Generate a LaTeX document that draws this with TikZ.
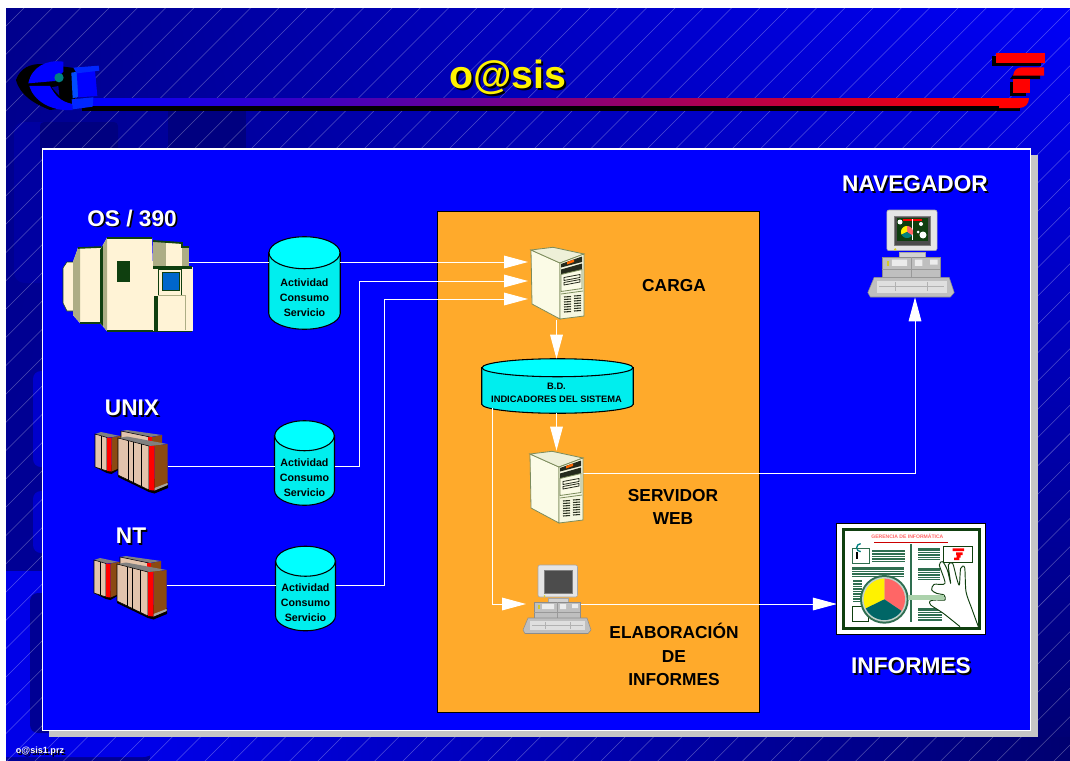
\documentclass[tikz,border=0pt]{standalone}
\usepackage{fontspec}
\setmainfont{Liberation Sans}
\usetikzlibrary{arrows.meta,shadings}
\definecolor{orangebox}{HTML}{FFAA2B}
\definecolor{crema}{HTML}{FFF3D6}
\definecolor{caqui}{HTML}{ADAD85}
\definecolor{verdeosc}{HTML}{0F3F0F}
\definecolor{beige}{HTML}{E3C4AC}
\definecolor{marron}{HTML}{8B4A12}
\definecolor{hueso}{HTML}{FBFBE6}
\definecolor{oliva}{HTML}{7C8C5C}
\definecolor{renglon}{HTML}{2E6E50}
\definecolor{fondoA}{HTML}{00008C}
\definecolor{fondoB}{HTML}{0000F8}
\definecolor{fondoC}{HTML}{000098}
\definecolor{fondoD}{HTML}{000070}
\definecolor{fondoE}{HTML}{0000E8}
\definecolor{tapa}{HTML}{00FFFF}
\definecolor{cuerpo}{HTML}{00EEEE}
\newcommand{\sombra}[2][white]{\leavevmode\rlap{\kern1.3pt\raisebox{-1.3pt}{\textcolor{black}{#2}}}\textcolor{#1}{#2}}
\newcommand{\renglones}[5]{\fill[renglon] (#1,#2) rectangle (#3,#4);
    \foreach \k [evaluate=\k as \yy using #2+7.5*\k] in {1,...,#5} \draw[white,line width=.35pt] (#1,\yy) -- (#3,\yy);}
\newcommand{\sector}[6]{\fill[#6] (#1,#2) -- plot[domain=#4:#5,samples=24] ({#1+#3*cos(\x)},{#2-#3*sin(\x)}) -- cycle;}
\newcommand{\actividad}{Actividad\\Consumo\\Servicio}
\newcommand{\tambor}[3]{
    \filldraw[tamborline,fill=cuerpo] ([yshift=-#3*.75pt]#1.north west) -- ([yshift=#3*.75pt]#1.south west)
        .. controls +(0pt,-#3*.41pt) and +(-#2*.41pt,0pt) .. (#1.south)
        .. controls +(#2*.41pt,0pt) and +(0pt,-#3*.41pt) .. ([yshift=#3*.75pt]#1.south east)
        -- ([yshift=-#3*.75pt]#1.north east) -- cycle;
    \filldraw[tamborline,fill=tapa] ([yshift=-#3*.75pt]#1.north) ellipse [x radius=#2*.75pt,y radius=#3*.75pt];
}
\tikzset{
    titulo/.style={font=\bfseries\fontsize{17}{20}\selectfont},
    rotulo/.style={font=\bfseries\fontsize{13}{17.5}\selectfont,align=center,inner sep=0pt},
    hueco/.style={inner sep=0pt},
    wire/.style={white,line width=.7pt},
    flecha/.style={wire,-{Triangle[length=18pt,width=9.5pt,fill=white]}},
    tamborline/.style={draw=black,line width=.8pt},
    etiqueta/.style={align=center,inner sep=0pt,font=\bfseries\fontsize{8}{11.2}\selectfont},
    pics/central/.style={code={
        \begin{scope}[shift={(-128,-284.5)}]
            \fill[crema,draw=verdeosc] (63,268) -- (67,262) -- (75,262) -- (75,311) -- (67,311) -- (63,303) -- cycle;
            \fill[crema] (73,262) -- (78,248) -- (101,247) -- (101,323) -- (80,323) -- (73,315) -- cycle;
            \fill[caqui] (73,262) -- (78,248) -- (80,248) -- (80,323) -- (73,315) -- cycle;
            \draw[verdeosc,line width=1.2pt] (78,248) -- (101,247) (80,323) -- (101,323);
            \fill[crema] (100,250) -- (107,238) -- (152,238) -- (155,331) -- (107,331) -- (100,323) -- cycle;
            \fill[verdeosc] (100,250) -- (103,245) -- (103,326) -- (100,323) -- cycle;
            \fill[caqui] (103,245) -- (107,238) -- (107,331) -- (103,326) -- cycle;
            \draw[verdeosc,line width=1.4pt] (107,238) -- (152,238) (107,331) -- (192,331);
            \fill[caqui] (153,241) rectangle (166,267);
            \fill[crema] (166,243) rectangle (182,267);
            \fill[caqui] (182,247) rectangle (189,267);
            \draw[verdeosc,line width=1.4pt] (153,241) -- (182,243) -- (182,247) -- (189,247);
            \fill[crema] (153,267) rectangle (192.7,331);
            \fill[verdeosc] (153,266) rectangle (192,268.5);
            \fill[verdeosc] (117,261) rectangle (130,282);
            \draw[verdeosc,fill=crema] (158,269) rectangle (181,295);
            \fill[verdeosc] (162,272) rectangle (180,291);
            \fill[blue!50!cyan!80!black] (163,273) rectangle (179,290);
            \fill[verdeosc] (154,296) rectangle (158,331);
            \draw[caqui] (158,295) -- (185,295) -- (185,330);
        \end{scope}
    }},
    pics/racks/.style={code={
        \begin{scope}[shift={(-131.5,-462)},draw=black]
            \fill[gray] (95,434) -- (101,432) -- (120,436) -- (107,437.5) -- cycle;
            \fill[black] (95,467) -- (107,473) -- (111.5,474) -- (120,469) -- (120,465) -- (95,464) -- cycle;
            \fill[beige,draw=black,line width=.4pt] (95,434) -- (107,437.5) -- (107,471) -- (95,467) -- cycle;
            \draw[line width=.4pt] (101,436) -- (101,469);
            \fill[red] (107,437.5) -- (111.5,437.5) -- (111.5,471.5) -- (107,471) -- cycle;
            \fill[marron] (111.5,437.5) -- (122,435.5) -- (122,467) -- (111.5,471.5) -- cycle;
            \fill[gray] (121,431) -- (127,430) -- (162,435) -- (150,437) -- cycle;
            \fill[beige,draw=black,line width=.4pt] (121,431) -- (150,437) -- (150,446) -- (121,440) -- cycle;
            \fill[red] (148,437) rectangle (152,445);
            \fill[marron] (152,437) -- (162,435) -- (162,445) -- (152,447) -- cycle;
            \fill[black] (118,477) -- (149,492) -- (154.5,493.5) -- (168,488) -- (168,482) -- (118,470) -- cycle;
            \fill[gray] (118,438) -- (127,436.5) -- (167.5,444) -- (149,446) -- cycle;
            \fill[beige,draw=black,line width=.4pt] (118,438) -- (149,446) -- (149,490) -- (118,475) -- cycle;
            \foreach \xx/\ya/\yb in {128/440.5/480,133/442/482.5,141/444/486} \draw[line width=.4pt] (\xx,\ya) -- (\xx,\yb);
            \fill[red] (149,446) -- (154.5,446) -- (154.5,490.5) -- (149,490) -- cycle;
            \fill[marron] (154.5,446) -- (167.5,444) -- (167.5,485) -- (154.5,490.5) -- cycle;
            \fill[gray!70] (154.5,488) -- (167.5,483) -- (167.5,485) -- (154.5,490.5) -- cycle;
        \end{scope}
    }},
    pics/torre/.style={code={
        \begin{scope}[shift={(-558,-283.5)},draw=oliva,line width=.6pt]
            \filldraw[fill=hueso] (531,250) -- (560,263) -- (560,319) -- (532,304) -- cycle;
            \filldraw[fill=hueso!90!oliva] (531,250) -- (553,247.3) -- (584,254) -- (560,263) -- cycle;
            \filldraw[fill=hueso!96!oliva] (560,263) -- (584,254) -- (584,316) -- (560,319) -- cycle;
            \fill[black!70!oliva] (561,264) -- (582,256.5) -- (582,262) -- (561,267.5) -- cycle;
            \fill[orange!80!red] (567,262) -- (574,259.5) -- (574,262) -- (567,264.5) -- cycle;
            \fill[black!70!oliva] (561,269.5) -- (582,263.5) -- (582,269.5) -- (561,274.5) -- cycle;
            \filldraw[fill=hueso] (561,274.5) -- (582,269.5) -- (582,288.5) -- (561,291.5) -- cycle;
            \filldraw[draw=black!70!oliva,fill=hueso] (564,277.5) -- (580,274.5) -- (580,277.5) -- (564,280.5) -- cycle;
            \filldraw[draw=black!70!oliva,fill=hueso] (564,282.5) -- (580,279.5) -- (580,282) -- (564,285) -- cycle;
            \draw (561,294) -- (583,291);
            \foreach \yy in {297,299.5,...,314} {
                \draw[black!65!oliva,line width=.8pt] (564,\yy) -- (571,\yy-.5);
                \draw[black!65!oliva,line width=.8pt] (574,\yy-1) -- (581,\yy-1.5);
            }
        \end{scope}
    }},
    pics/equipo/.style={code={
        \begin{scope}[shift={(-557,-602)}]
            \draw[gray!70,fill=gray!20,rounded corners=1.5pt] (538,565) rectangle (577.5,597);
            \draw[gray,fill=black!70] (544,570) rectangle (572,593);
            \fill[yellow!85!black] (544.5,596) circle (1);
            \draw[gray!70,fill=gray!35] (548,598) rectangle (568,602);
            \draw[black!45,fill=gray!50] (534,602) rectangle (580,618);
            \fill[white!85!gray] (542,604) rectangle (554,609) (560,604) rectangle (566,609) (572,604) rectangle (578,608);
            \draw[black!40] (534,612) -- (580,612) (557,602) -- (557,618);
            \fill[yellow!80!black] (538,605) rectangle (539.5,609);
            \filldraw[draw=black!45,fill=gray!50,line join=round] (528,618) -- (587,618) -- (591,630) -- (588,633.5) -- (525,633.5) -- (523,630) -- cycle;
            \fill[gray!25] (530,621) rectangle (585,630);
            \draw[gray!60,line width=.6pt] (532,625) -- (583,625) (545,622) -- (545,629) (570,622) -- (570,629);
        \end{scope}
    }}
}
\begin{document}
\begin{tikzpicture}[x=.75pt,y=-.75pt]
    \useasboundingbox (0,0) rectangle (1070,760);
    \fill[white] (0,0) rectangle (1070,760);
    \begin{scope}
        \clip (6,8) rectangle (1070,760);
        \shade[upper left=fondoA,upper right=fondoB,lower left=fondoC,lower right=fondoD] (6,8) rectangle (1070,760);
        \shade[left color=fondoE,right color=fondoD] (150,737) rectangle (1070,760);
        \fill[blue!63!black,rounded corners=8pt] (14,122) rectangle (60,283);
        \fill[blue!80!black,rounded corners=6pt] (33,371) rectangle (60,467);
        \fill[blue!80!black,rounded corners=6pt] (33,491) rectangle (60,553);
        \fill[fondoE,rounded corners=12pt] (-20,571) rectangle (159,757);
        \fill[blue!58!black,rounded corners=6pt] (30,593) rectangle (70,733);
        \fill[blue!50!black,rounded corners=3pt] (40,122) rectangle (118,160);
        \fill[blue!50!black] (168,107) rectangle (246,160);
        \foreach \k [evaluate=\k as \xx using 32+28.3*\k] in {0,...,64}
            \draw[white,opacity=.3,line width=.4pt] (\xx,0) -- (\xx-770,770);
    \end{scope}
    \shade[left color=blue,right color=red] (90,98) rectangle (1000,106.5);
    \fill[black] (82,106) rectangle (1000,111);
    % logo izquierda
    \begin{scope}[scale=1/3]
        \fill[black] (48,240) .. controls (60,205) and (90,190) .. (130,192) -- (230,205) -- (225,320) -- (150,330) .. controls (100,310) and (60,285) .. (48,240);
        \fill[blue] (190,185) .. controls (140,178) and (95,200) .. (85,250) -- (165,243) -- (190,215) -- cycle;
        \fill[blue] (88,258) .. controls (100,300) and (150,335) .. (218,330) -- (218,312) .. controls (180,305) and (165,285) .. (150,258) -- cycle;
        \fill[blue!60!black] (155,262) -- (175,258) -- (178,287) -- cycle;
        \fill[teal] (177,233) circle (14);
        \fill[blue!70!cyan] (214,218) -- (235,215) -- (235,290) -- (218,295) -- cycle;
        \fill[blue] (230,215) -- (285,212) -- (292,288) -- (235,292) -- cycle;
        \fill[blue!85!cyan] (220,203) -- (296,197) -- (298,212) -- (230,220) -- cycle;
        \fill[blue!85!cyan] (215,298) -- (280,292) -- (278,320) -- (218,328) -- cycle;
    \end{scope}
    % logo derecha
    \fill[black] (992,56) rectangle (1041,66);
    \fill[black] (1010,79) -- (1016,71) -- (1040,71) -- (1040,79) -- cycle;
    \fill[black] (1010,82) rectangle (1026,96);
    \fill[black] (1000,108) rectangle (1020,111);
    \fill[red] (996,53) rectangle (1045,63.3);
    \fill[red] (1013,75.7) .. controls (1014,70) and (1017,67.3) .. (1022,67.3) -- (1044,67.3) -- (1044,75.7) -- cycle;
    \fill[red] (1013,79.3) rectangle (1030,93.3);
    \fill[red] (999,98) -- (1029,98) .. controls (1029,104) and (1025,108) .. (1019,108) -- (999,108) -- cycle;
    \node[font=\bfseries\fontsize{29.5}{30}\selectfont,inner sep=0pt] (tit) at (508,78) {\sombra[yellow]{o@sis}};
    \node[font=\bfseries\fontsize{6.8}{8}\selectfont,inner sep=0pt] (arch) at (40,752) {\sombra{o@sis1.prz}};

    \fill[gray!45] (49,155) rectangle (1038,737);
    \draw[white,fill=blue,line width=.8pt] (42.5,149) rectangle (1030.5,730.5);
    \draw[black,fill=orangebox,line width=.6pt] (437,211) rectangle (759,712);

    \node[hueco,minimum width=97.5pt,minimum height=70pt] (osbox) at (128,284.5) {};
    \node[hueco,minimum width=55pt,minimum height=47pt] (unixbox) at (131.5,462) {};
    \node[hueco,minimum width=55pt,minimum height=47pt] (ntbox) at (130.5,588) {};
    \node[hueco,minimum width=39pt,minimum height=55pt] (carga) at (556.5,283.5) {};
    \node[hueco,minimum width=40pt,minimum height=55pt] (web) at (556.5,487.5) {};
    \node[hueco,minimum width=34.5pt,minimum height=52pt] (pcbox) at (557,599.5) {};
    \node[hueco,minimum width=64.5pt,minimum height=66.8pt] (navbox) at (911,252.5) {};
    \node[hueco,minimum width=110.8pt,minimum height=82.5pt] (informes) at (911,579) {};

    \node[hueco,minimum width=53.25pt,minimum height=69pt] (actos) at (304.5,283) {};
    \node[hueco,minimum width=44.6pt,minimum height=63pt] (actunix) at (304.5,463) {};
    \node[hueco,minimum width=44.6pt,minimum height=63pt] (actnt) at (305.5,588.5) {};
    \node[hueco,minimum width=113.25pt,minimum height=40.5pt] (bd) at (557.5,386) {};
    \tambor{actos}{35.5}{16}
    \tambor{actunix}{29.75}{15}
    \tambor{actnt}{29.75}{15}
    \tambor{bd}{75.5}{9}
    \node[etiqueta] (lblos) at (304.5,298) {\actividad};
    \node[etiqueta] (lblunix) at (304.5,477.5) {\actividad};
    \node[etiqueta] (lblnt) at (305.5,602.5) {\actividad};
    \node[etiqueta,font=\bfseries\fontsize{7}{10}\selectfont] (lblbd) at (556.5,392.5) {B.D.\\INDICADORES DEL SISTEMA};

    \coordinate (entA) at (528,262);
    \coordinate (entB) at (528,281);
    \coordinate (entC) at (528,299);
    \coordinate (codoB) at (359,466);
    \coordinate (codoC) at (384,585);
    \coordinate (salidaBD) at (492.5,408);
    \coordinate (bajada) at (492.5,604);
    \coordinate (entPC) at (526,604);
    \coordinate (subida) at (915,473);
    \coordinate (salPC) at (580,604);

    \draw[wire] (osbox.center |- entA) -- (actos.west |- entA);
    \draw[flecha] (actos.east |- entA) -- (entA);
    \draw[wire] (unixbox.east |- codoB) -- (actunix.west |- codoB);
    \draw[flecha] (actunix.east |- codoB) -- (codoB) -- (codoB |- entB) -- (entB);
    \draw[wire] (ntbox.east |- codoC) -- (actnt.west |- codoC);
    \draw[flecha] (actnt.east |- codoC) -- (codoC) -- (codoC |- entC) -- (entC);
    \draw[flecha] (carga.south) -- (carga.south |- bd.north);
    \draw[flecha] (web.north |- bd.south) -- (web.north);
    \draw[flecha] (salidaBD) -- (bajada) -- (entPC);
    \draw[flecha] (web.east |- subida) -- (subida) -- (subida |- navbox.south);
    \draw[flecha] (salPC) -- (salPC -| informes.west);

    \pic at (osbox) {central};
    \pic at (unixbox) {racks};
    \pic at (ntbox) {racks};
    \pic at (558,283.5) {torre};
    \pic at (557,487.5) {torre};
    \pic at (557,602) {equipo};
    \pic[scale=1.27] at (911,257) {equipo};

    % pantalla del navegador
    \fill[verdeosc] (897,218) rectangle (928,241);
    \draw[red,line width=.8pt] (903,220) -- (922,220);
    \draw[white,line width=.4pt] (912,219) -- (912,240);
    \sector{907}{232}{6}{90}{-34}{red!60!white}
    \sector{907}{232}{6}{90}{206}{yellow}
    \sector{907}{232}{6}{206}{326}{teal}
    \fill[white] (900,222) circle (2.5) (921,224) circle (2) (923,235) circle (3.5) (918,232) circle (1.5);

    % hoja de informes
    \draw[black,fill=white,line width=.8pt] (informes.south west) rectangle (informes.north east);
    \begin{scope}[shift={(830,515)},scale=1/3]
        \draw[verdeosc,line width=2.4pt] (40,44) rectangle (448,340);
        \node[font=\bfseries\fontsize{3.8}{4}\selectfont,text=red!60!white,inner sep=0pt] (hoja) at (232,63) {GERENCIA DE INFORMÁTICA};
        \draw[red!80!black,line width=.5pt] (132,82) -- (355,82);
        \draw[renglon,line width=.9pt] (243,87) -- (243,322);
        \renglones{125}{105}{225}{140}{4}
        \renglones{65}{157}{222}{190}{4}
        \renglones{68}{195}{95}{265}{9}
        \renglones{265}{100}{330}{135}{4}
        \renglones{265}{160}{330}{195}{4}
        \renglones{265}{280}{335}{318}{5}
        \draw[renglon,line width=.6pt] (68,100) rectangle (118,145);
        \draw[teal,line width=1pt] (92,110) arc (90:270:12);
        \fill[black] (78,112) rectangle (84,133);
        \draw[verdeosc,line width=.6pt] (340,93) rectangle (428,142);
        \fill[red] (368,100) rectangle (402,108) (378,112) rectangle (398,120) (380,120) rectangle (392,128) (372,128) rectangle (388,135);
        \draw[verdeosc,line width=.6pt] (68,275) rectangle (115,318);
        \fill[renglon] (163,253) circle (73);
        \fill[white!70!renglon] (163,253) circle (67);
        \sector{163}{253}{62}{90}{-34}{red!60!white}
        \sector{163}{253}{62}{90}{206}{yellow}
        \sector{163}{253}{62}{206}{326}{teal!80!black}
        \fill[green!30!gray!50!white] (235,240) rectangle (300,256);
        \filldraw[draw=verdeosc,fill=white,line width=.7pt,line join=round] plot[smooth,tension=.45] coordinates {(390,335) (340,295) (302,270) (300,258) (318,255) (345,255) (342,240) (320,235) (305,225) (312,208) (345,205) (328,150) (338,140) (352,165) (362,205) (355,150) (368,145) (380,190) (388,210) (392,160) (404,158) (408,230) (425,280) (445,335)};
        \fill[green!30!gray!50!white] (295,240) rectangle (343,255);
    \end{scope}

    \node[titulo] (tos) at (132,219) {\sombra{OS / 390}};
    \node[titulo] (tunix) at (132,408.5) {\sombra{UNIX}};
    \node[titulo] (tnt) at (131,536.5) {\sombra{NT}};
    \node[titulo] (tnav) at (915,184.5) {\sombra{NAVEGADOR}};
    \node[titulo] (tinf) at (911,666.5) {\sombra{INFORMES}};
    \node[rotulo] (rcarga) at (674,285.5) {CARGA};
    \node[rotulo] (rweb) at (673,507) {SERVIDOR\\WEB};
    \node[rotulo] (relab) at (674,654.5) {ELABORACIÓN\\DE\\INFORMES};
\end{tikzpicture}
\end{document}
